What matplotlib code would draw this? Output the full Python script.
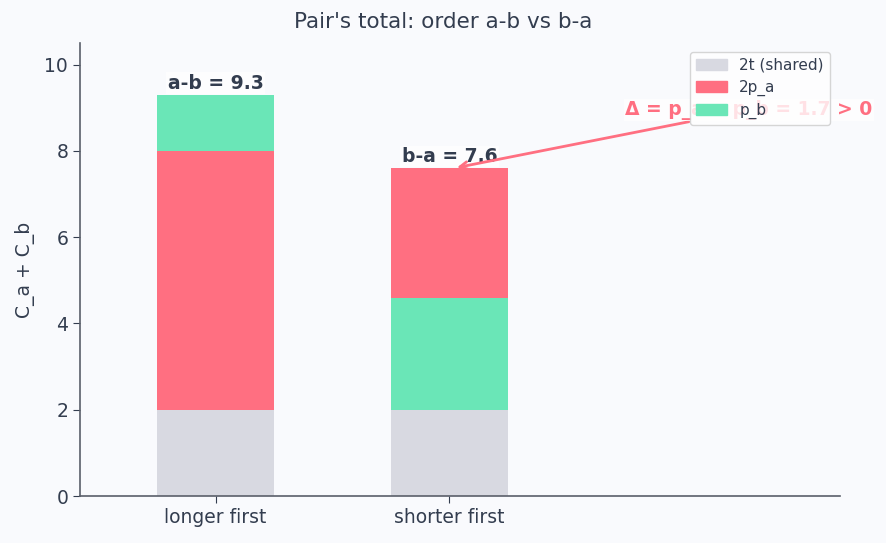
import matplotlib
matplotlib.use("Agg")
import matplotlib.pyplot as plt
from matplotlib.patches import Patch
import numpy as np

categories = ["longer first", "shorter first"]
shared_2t = [2.0, 2.0]
# segment order from bottom: 2t, then middle, then top
middle_vals = [6.0, 2.6]   # bar1: 2p_a (red), bar2: 2p_b (green)
top_vals = [1.3, 3.0]      # bar1: p_b (green), bar2: p_a (red)
totals = [9.3, 7.6]
total_labels = ["a-b = 9.3", "b-a = 7.6"]
delta_label = "Δ = p_a − p_b = 1.7 > 0"
legend_labels = ["2t (shared)", "2p_a", "p_b"]

GRAY = "#d8d9e1"
RED = "#ff6f81"
GREEN = "#6ae6b7"
TXT = "#333d4f"
BG = "#f9fafd"

plt.rcParams['font.family'] = ['DejaVu Sans']
fig = plt.figure(figsize=(8.87, 5.43), dpi=100, facecolor=BG)
ax = fig.add_axes([80/887, 1-496/543, 760/887, 453/543])
ax.set_facecolor(BG)

x = np.arange(len(categories))
w = 0.5
ax.bar(x, shared_2t, w, color=GRAY)
mid_colors = [RED, GREEN]
top_colors = [GREEN, RED]
ax.bar(x, middle_vals, w, bottom=shared_2t, color=mid_colors)
bot2 = [a + b for a, b in zip(shared_2t, middle_vals)]
ax.bar(x, top_vals, w, bottom=bot2, color=top_colors)

for xi, t, lab in zip(x, totals, total_labels):
    ax.text(xi, t + 0.05, lab, ha="center", va="bottom", fontsize=13.5,
            fontweight="bold", color=TXT,
            bbox=dict(facecolor="white", edgecolor="none", alpha=0.7, pad=1))

ax.annotate(delta_label, xy=(x[1] + 0.02, totals[1]), xytext=(2.28, 8.95),
            ha="center", va="center", fontsize=13.5, fontweight="bold", color=RED,
            bbox=dict(facecolor="white", edgecolor="none", alpha=0.7, pad=1),
            arrowprops=dict(arrowstyle="->", color=RED, lw=2))

handles = [Patch(color=c, label=l) for c, l in zip([GRAY, RED, GREEN], legend_labels)]
leg = ax.legend(handles=handles, loc="upper right", fontsize=11, frameon=True,
                labelcolor=TXT, bbox_to_anchor=(0.9967, 0.998), labelspacing=0.45)
leg.get_frame().set_edgecolor("#cccccc")
leg.get_frame().set_facecolor("white")
leg.set_zorder(10)

ax.set_xlim(-0.58, 2.67)
ax.set_ylim(0, 10.5)
ax.set_xticks(x)
ax.set_xticklabels(categories)
ax.set_yticks([0, 2, 4, 6, 8, 10])
ax.tick_params(colors=TXT, labelsize=13.5, length=5)
ax.set_ylabel("C_a + C_b", color=TXT, fontsize=13.5, labelpad=7)
ax.set_title("Pair's total: order a-b vs b-a", color=TXT, fontsize=15.5,
             x=(443.5 - 80) / 760, pad=10.5)
for s in ["top", "right"]:
    ax.spines[s].set_visible(False)
for s in ["left", "bottom"]:
    ax.spines[s].set_color("#5a5f6a")
    ax.spines[s].set_linewidth(1.2)

fig.savefig("out.png", dpi=100, facecolor=BG)
